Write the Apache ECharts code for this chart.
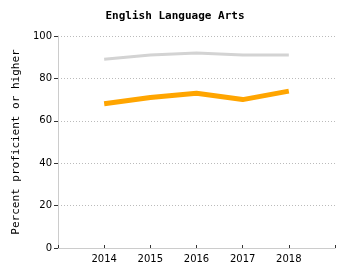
<!DOCTYPE html>
<html>
<head>
<meta charset="utf-8">
<script src="https://cdn.jsdelivr.net/npm/echarts@6/dist/echarts.min.js"></script>
<style>
  html, body { margin: 0; padding: 0; background: #fff; }
  #chart { width: 350px; height: 280px; }
</style>
</head>
<body>
<div id="chart"></div>
<script>
const years = [2014, 2015, 2016, 2017, 2018];
const stateValues = [89, 91, 92, 91, 91];
const schoolValues = [68, 71, 73, 70, 74];
const yTicks = [0, 20, 40, 60, 80, 100];

const chart = echarts.init(document.getElementById('chart'));
const mono = 'DejaVu Sans Mono';
const sans = 'DejaVu Sans';

chart.setOption({
  animation: false,
  title: {
    text: 'English Language Arts',
    left: 'center',
    top: 6,
    textStyle: { fontFamily: mono, fontSize: 11, fontWeight: 'bold', color: '#000' }
  },
  grid: { left: 58, right: 15, top: 36, bottom: 32 },
  xAxis: {
    type: 'value',
    min: 2013,
    max: 2019,
    interval: 1,
    axisLine: { lineStyle: { color: '#ccc' } },
    axisTick: { inside: true, length: 3, lineStyle: { color: '#333' } },
    splitLine: { show: false },
    axisLabel: {
      fontFamily: sans, fontSize: 10, color: '#000', margin: 6,
      formatter: v => years.includes(v) ? String(v) : ''
    }
  },
  yAxis: {
    type: 'value',
    min: yTicks[0],
    max: yTicks[yTicks.length - 1],
    interval: 20,
    name: 'Percent proficient or higher',
    nameLocation: 'middle',
    nameGap: 35,
    nameTextStyle: { fontFamily: mono, fontSize: 11, color: '#000' },
    axisLine: { show: true, lineStyle: { color: '#ccc' } },
    axisTick: { show: true, length: 4, lineStyle: { color: '#333' } },
    axisLabel: { fontFamily: sans, fontSize: 10, color: '#000', margin: 6 },
    splitLine: { lineStyle: { color: '#bbb', type: [1, 2] } }
  },
  series: [
    {
      type: 'line',
      data: years.map((y, i) => [y, stateValues[i]]),
      showSymbol: false,
      lineStyle: { color: '#d3d3d3', width: 3 }
    },
    {
      type: 'line',
      data: years.map((y, i) => [y, schoolValues[i]]),
      showSymbol: false,
      lineStyle: { color: '#ffa500', width: 5 }
    }
  ]
});
</script>
</body>
</html>
